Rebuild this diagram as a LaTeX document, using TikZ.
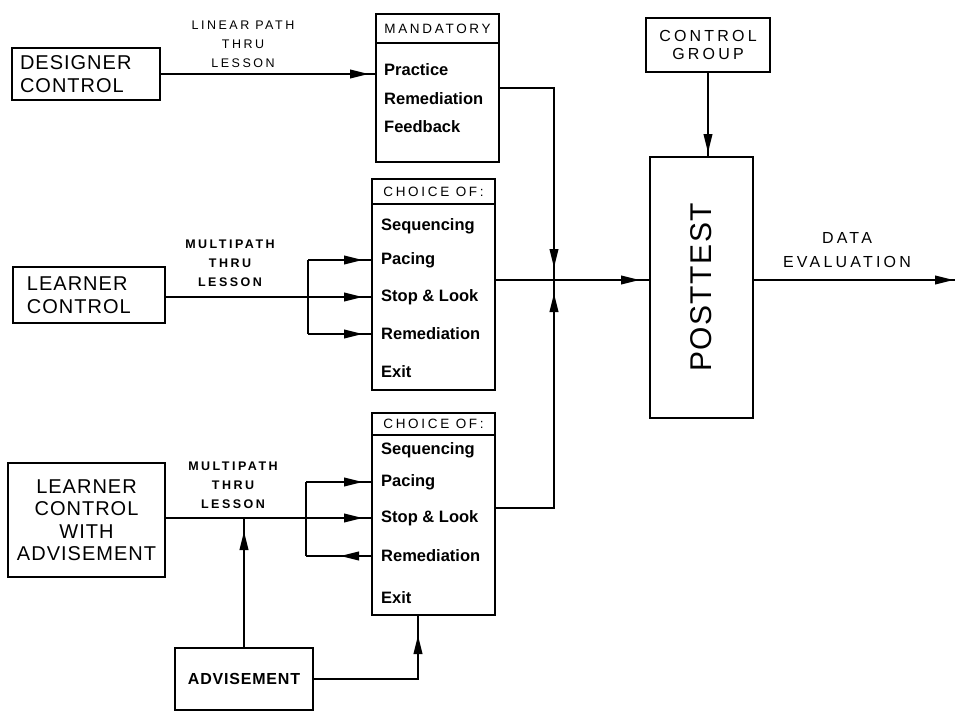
\documentclass[tikz,border=0pt]{standalone}
\usepackage{fontspec}
\setmainfont{Liberation Sans}
\newfontfamily\boxfont[LetterSpace=5]{Liberation Sans}
\newfontfamily\lblfont[LetterSpace=20]{Liberation Sans}
\usetikzlibrary{positioning,arrows.meta,decorations.markings}

\begin{document}
\begin{tikzpicture}[x=1pt, y=-1pt,
		blk/.style={draw, line width=1.5pt, outer sep=0pt, inner sep=0pt, font=\boxfont\fontsize{20}{22.5}\selectfont},
		hdr/.style={draw, line width=1.5pt, outer sep=0pt, inner sep=0pt, minimum width=123pt, font=\lblfont\fontsize{13.5}{15}\selectfont},
		body/.style={draw, line width=1.5pt, outer sep=0pt, minimum width=123pt},
		item/.style={anchor=west, inner sep=0pt, font=\bfseries\fontsize{16.5}{18}\selectfont},
		lbl/.style={align=center, inner sep=0pt, font=\lblfont\bfseries\fontsize{12.5}{19}\selectfont},
		link/.style={line width=2.3pt},
		arr/.style={link, postaction={decorate}, decoration={markings,
						mark=at position -#1 with {\arrow{Triangle[length=19pt, width=8.5pt]}}}},
		arr/.default=6pt
	]
	\useasboundingbox (0,0) rectangle (956,712);

	\node[blk, minimum width=148pt, minimum height=52pt, text width=132pt, align=left] (designer) at (86,74) {DESIGNER\\CONTROL};
	\node[blk, minimum width=152pt, minimum height=56pt, text width=124pt, align=left] (learner) at (89,295) {LEARNER\\CONTROL};
	\node[blk, minimum width=157pt, minimum height=114pt, align=center] (advlearner) at (86.5,520) {LEARNER\\CONTROL\\WITH\\ADVISEMENT};
	\node[blk, minimum width=138pt, minimum height=62pt, font=\boxfont\bfseries\fontsize{16}{18}\selectfont] (adv) at (244,679) {ADVISEMENT};

	\node[hdr, minimum height=29pt] (mandhd) at (437.5,28.5) {MANDATORY};
	\node[body, minimum height=119pt, below=0pt of mandhd] (mand) {};
	\foreach \nm/\y/\txt in {prac/70/Practice, remm/99/Remediation, feed/127/Feedback}
	\node[item] (\nm) at (384,\y) {\txt};

	\node[hdr, minimum height=25pt] (ch1hd) at (433.5,191.5) {CHOICE OF:};
	\node[body, minimum height=186pt, below=0pt of ch1hd] (ch1) {};
	\foreach \nm/\y/\txt in {seq1/226/Sequencing, pace1/260/Pacing, stop1/297/Stop \& Look, rem1/334/Remediation, exit1/372/Exit}
	\node[item] (\nm) at (381,\y) {\txt};

	\node[hdr, minimum height=22pt] (ch2hd) at (433.5,424) {CHOICE OF:};
	\node[body, minimum height=180pt, below=0pt of ch2hd] (ch2) {};
	\foreach \nm/\y/\txt in {seq2/450/Sequencing, pace2/482/Pacing, stop2/518/Stop \& Look, rem2/556/Remediation, exit2/598/Exit}
	\node[item] (\nm) at (381,\y) {\txt};

	\node[blk, minimum width=124pt, minimum height=54pt, align=center, font=\lblfont\fontsize{16}{18}\selectfont] (ctrl) at (708,45) {CONTROL\\GROUP};
	\node[blk, minimum width=103pt, minimum height=261pt, font=\boxfont\fontsize{30}{30}\selectfont] (post) at (701.5,287.5) {\rotatebox{90}{POSTTEST}};

	\node[lbl, font=\lblfont\fontsize{12.5}{19}\selectfont] (linlbl) at (243,44) {LINEAR PATH\\THRU\\LESSON};
	\node[lbl] (mp1lbl) at (230,263) {MULTIPATH\\THRU\\LESSON};
	\node[lbl] (mp2lbl) at (233,485) {MULTIPATH\\THRU\\LESSON};
	\node[lbl, font=\lblfont\fontsize{16}{24}\selectfont] (evallbl) at (847,250) {DATA\\EVALUATION};

	\coordinate (fork1) at (308,0);
	\coordinate (fork2) at (306,0);
	\coordinate (junc) at (554,280);
	\coordinate (out) at (955,280);

	\draw[arr=7pt] (designer) -- (designer -| mand.west);
	\draw[arr=12pt] ([yshift=-45pt]mand.north east) -| (junc);

	\draw[arr=9pt] (learner.east |- stop1) -- (ch1.west |- stop1);
	\draw[link] (fork1 |- pace1) -- (fork1 |- rem1);
	\draw[arr=9pt] (fork1 |- pace1) -- (ch1.west |- pace1);
	\draw[arr=9pt] (fork1 |- rem1) -- (ch1.west |- rem1);
	\draw[link] (ch1.east |- junc) -- (junc);

	\draw[arr=9pt] (advlearner.east |- stop2) -- (ch2.west |- stop2);
	\draw[link] (fork2 |- pace2) -- (fork2 |- rem2);
	\draw[arr=9pt] (fork2 |- pace2) -- (ch2.west |- pace2);
	\draw[arr=34pt] (ch2.west |- rem2) -- (fork2 |- rem2);
	\draw[arr=13pt] ([yshift=-73pt]ch2.north east) -| (junc);

	\draw[arr=13pt] (adv) -- (adv |- stop2);
	\draw[arr=20pt] (adv.east) -| ([xshift=46pt]ch2.south west);

	\draw[arr=10pt] (junc) -- (post.west |- junc);
	\draw[arr=4pt] (ctrl) -- (ctrl |- post.north);
	\draw[arr=1pt] (post.east |- junc) -- (out);
\end{tikzpicture}
\end{document}
